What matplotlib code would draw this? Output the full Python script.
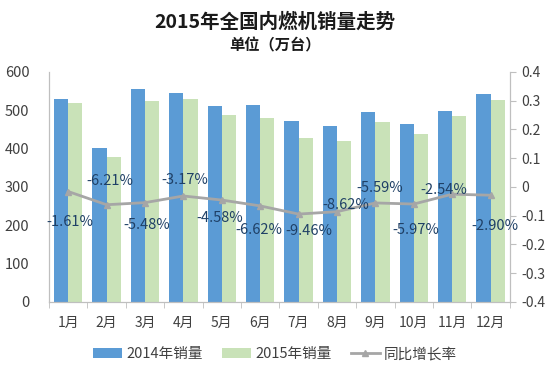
import numpy as np
import matplotlib
matplotlib.use("Agg")
import matplotlib.pyplot as plt

plt.rcParams['font.family'] = ['Noto Sans CJK SC', 'DejaVu Sans']

months = ["1月", "2月", "3月", "4月", "5月", "6月", "7月", "8月", "9月", "10月", "11月", "12月"]
sales_2014 = [528, 402, 556, 546, 512, 514, 472, 460, 496, 465, 499, 543]
sales_2015 = [520, 377, 525, 529, 488, 480, 427, 420, 468, 437, 486, 527]
growth = [-0.0161, -0.0621, -0.0548, -0.0317, -0.0458, -0.0662,
          -0.0946, -0.0862, -0.0559, -0.0597, -0.0254, -0.0290]
growth_labels = ["-1.61%", "-6.21%", "-5.48%", "-3.17%", "-4.58%", "-6.62%",
                 "-9.46%", "-8.62%", "-5.59%", "-5.97%", "-2.54%", "-2.90%"]
# label offsets (pixels) relative to each point
label_dx = [2, 3, 2, 1, -2, -1, 10, 9, 4, 2, -8, 4]
label_dy = [-30, 24, -22, 16, -18, -24, -17, 7, 15, -26, 4, -31]

blue = "#5B9BD5"
green = "#C9E2B8"
grey = "#A6A6A6"
axis_col = "#BFBFBF"
text_col = "#404040"

fig = plt.figure(figsize=(5.5, 3.65), dpi=100)
ax = fig.add_axes([0.089, 0.173, 0.838, 0.63])
ax2 = ax.twinx()

x = np.arange(len(months))
w = 0.37
b1 = ax.bar(x - w / 2, sales_2014, w, color=blue, label="2014年销量")
b2 = ax.bar(x + w / 2, sales_2015, w, color=green, label="2015年销量")

ax.set_xlim(-0.5, 11.5)
ax.set_ylim(0, 600)
ax.set_yticks(range(0, 601, 100))
ax.set_xticks(x)
ax.set_xticklabels(months)
ax.set_xticks(np.arange(-0.5, 12, 1), minor=True)
ax.tick_params(axis='x', which='major', length=0, pad=10, labelsize=10, colors=text_col)
ax.tick_params(axis='x', which='minor', length=4, color=axis_col)
ax.tick_params(axis='y', length=0, labelsize=10.5, colors=text_col, pad=14)

ln, = ax2.plot(x, growth, color=grey, lw=2, marker='^', ms=5,
               markerfacecolor=grey, markeredgecolor=grey, label="同比增长率")
ax2.set_ylim(-0.4, 0.4)
ax2.set_yticks(np.round(np.arange(-0.4, 0.41, 0.1), 1))
ax2.set_yticklabels(["-0.4", "-0.3", "-0.2", "-0.1", "0", "0.1", "0.2", "0.3", "0.4"])
ax2.tick_params(axis='y', length=4, color=axis_col, labelsize=10, colors=text_col, pad=4)

for i in range(len(months)):
    ax2.annotate(growth_labels[i], (x[i], growth[i]),
                 xytext=(label_dx[i], label_dy[i]), textcoords='offset pixels',
                 ha='center', va='center', fontsize=10.5, color="#1F4066")

for a in (ax, ax2):
    a.spines['top'].set_visible(False)
    for s in ('left', 'right', 'bottom'):
        a.spines[s].set_color(axis_col)

fig.text(0.5, 0.94, "2015年全国内燃机销量走势", ha='center', va='center',
         fontsize=14, fontweight='bold', color="#1A1A1A")
fig.text(0.5, 0.875, "单位（万台）", ha='center', va='center',
         fontsize=11, fontweight='bold', color="#1A1A1A")

fig.legend(handles=[b1, b2, ln], loc='center', bbox_to_anchor=(0.5, 0.03),
           ncol=3, frameon=False, fontsize=10.5, handlelength=2.0,
           handleheight=0.6, handletextpad=0.3, columnspacing=1.3,
           labelcolor=text_col)

fig.savefig("out.png", dpi=100)
